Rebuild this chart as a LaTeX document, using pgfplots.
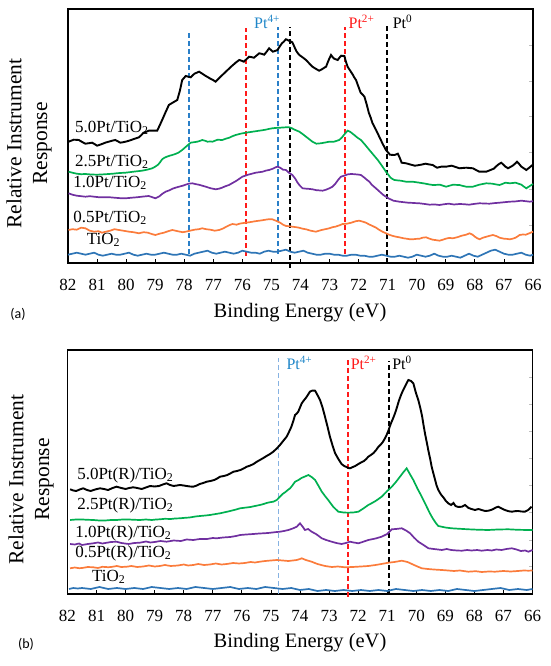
\documentclass[border=0pt]{standalone}
\usepackage{pgfplots}
\pgfplotsset{compat=1.18}
\usepackage{fontspec}
\setmainfont{Liberation Serif}
\newfontfamily\calibri{Carlito}
\definecolor{cgreen}{HTML}{00B050}
\definecolor{cpurple}{HTML}{7030A0}
\definecolor{corange}{HTML}{FB7C3C}
\definecolor{cblue}{HTML}{2E75B6}
\definecolor{dblue}{HTML}{2A7FC8}
\definecolor{tblue}{HTML}{1F86C8}
\definecolor{lblue}{HTML}{86B2E2}
\definecolor{cred}{HTML}{FF1A1A}
\newcommand{\lab}{\fontsize{17}{20}\selectfont}
\newcommand{\ptl}{\fontsize{16}{19}\selectfont}
\pgfplotsset{
  myax/.style={
    scale only axis, width=465pt,
    xmin=66, xmax=82, x dir=reverse,
    xtick={66,...,82},
    xtick pos=left, ytick pos=right,
    tick align=inside, major tick length=4pt,
    xtick style={black, line width=0.8pt},
    ytick style={gray!50, line width=0.8pt},
    yticklabels={},
    axis line style={line width=1.7pt},
    xticklabel style={font=\lab, anchor=center, yshift=-22pt},
    /pgf/number format/assume math mode=true,
    clip=false,
    every axis plot/.append style={line width=1.7pt, mark=none},
  }
}
\begin{document}
\begin{tikzpicture}
\useasboundingbox (0pt,0pt) rectangle (550pt,666pt);
% ---------------- panel (a)
\begin{axis}[myax, at={(300.5pt,530pt)}, anchor=center, height=253.4pt,
  ymin=0, ymax=253.4, ytick={37.7,73.7,110,146,181.7,217.7}]
% dashed reference lines
\addplot[dblue, line width=1.8pt, dash pattern=on 5pt off 3pt] coordinates {(77.84,9) (77.84,231)};
\addplot[cred, line width=1.8pt, dash pattern=on 5pt off 3pt] coordinates {(75.88,7) (75.88,234.7)};
\addplot[dblue, line width=1.8pt, dash pattern=on 5pt off 3pt] coordinates {(74.77,9) (74.77,236)};
\addplot[black, line width=1.8pt, dash pattern=on 5pt off 3pt] coordinates {(74.35,-5) (74.35,236)};
\addplot[cred, line width=1.8pt, dash pattern=on 5pt off 3pt] coordinates {(72.46,9) (72.46,236)};
\addplot[black, line width=1.8pt, dash pattern=on 5pt off 3pt] coordinates {(71.02,0) (71.02,237.7)};
% TiO2
\addplot[cblue] coordinates {(82,8) (81.85,9) (81.7,10) (81.55,9) (81.4,8) (81.25,9) (81.1,10) (80.95,8) (80.8,7) (80.65,8) (80.5,9) (80.35,8) (80.2,8) (80.05,9) (79.9,10) (79.75,8) (79.6,7) (79.45,8) (79.3,9) (79.15,8) (79.0,8) (78.85,9) (78.7,10) (78.55,9) (78.4,8) (78.25,8) (78.1,9) (77.95,8) (77.8,7) (77.65,9) (77.5,10) (77.35,11) (77.2,12) (77.05,10) (76.9,9) (76.75,10) (76.6,11) (76.45,10) (76.3,9) (76.15,10) (76.0,12) (75.85,11) (75.7,10) (75.55,10) (75.4,9) (75.25,11) (75.1,12) (74.95,11) (74.8,11) (74.65,12) (74.5,13) (74.35,11) (74.2,10) (74.05,11) (73.9,12) (73.75,10) (73.6,9) (73.45,8) (73.3,8) (73.15,9) (73.0,9) (72.85,8) (72.7,8) (72.55,7) (72.4,7) (72.25,8) (72.1,8) (71.95,7) (71.8,7) (71.65,6) (71.5,6) (71.35,7) (71.2,8) (71.05,7) (70.9,6) (70.75,6) (70.6,7) (70.45,6) (70.3,5) (70.15,6) (70.0,8) (69.85,7) (69.7,6) (69.55,7) (69.4,9) (69.25,7) (69.1,6) (68.95,6) (68.8,7) (68.65,6) (68.5,5) (68.35,7) (68.2,9) (68.05,7) (67.9,6) (67.75,8) (67.6,10) (67.45,12) (67.3,13) (67.15,11) (67.0,9) (66.85,8) (66.7,8) (66.55,9) (66.4,10) (66.25,8) (66.1,7) (66.0,8)};
% 0.5Pt
\addplot[corange] coordinates {(81.98,32.7) (81.85,33.5) (81.7,33) (81.55,35) (81.4,34.4) (81.25,32) (81.1,31) (80.95,31.5) (80.83,30) (80.7,31) (80.55,32) (80.4,33.5) (80.25,32.7) (80.1,32) (79.9,31) (79.75,30.5) (79.56,29.4) (79.4,30.5) (79.25,30) (79.1,28.5) (78.99,27.7) (78.85,29) (78.7,30) (78.55,31.5) (78.41,32.7) (78.3,32) (78.15,31) (78.05,30.5) (77.95,31) (77.8,32) (77.65,33) (77.5,33.5) (77.38,34.4) (77.25,33.5) (77.1,33) (76.95,32) (76.8,32.7) (76.68,34) (76.55,36) (76.45,37.5) (76.34,38.7) (76.2,38) (76.1,39) (76.0,39.5) (75.88,40) (75.75,40.5) (75.65,41) (75.55,41.5) (75.42,42) (75.3,42.5) (75.2,43) (75.08,43.5) (74.97,43.4) (74.85,42) (74.7,40) (74.6,38) (74.5,36.7) (74.4,36.5) (74.28,36) (74.15,35.5) (74.05,35) (73.93,34) (73.81,33.4) (73.65,32) (73.47,31) (73.3,32.5) (73.15,33.5) (73.01,34.4) (72.9,35.5) (72.8,36) (72.65,37.5) (72.55,38.7) (72.4,39) (72.25,40) (72.1,41.5) (71.98,42) (71.85,41) (71.75,40) (71.62,38) (71.52,36.7) (71.4,35) (71.3,33) (71.18,31) (71.06,29.4) (70.95,28) (70.85,27) (70.72,26) (70.6,25.4) (70.47,24.5) (70.35,24) (70.25,23.5) (70.14,23.4) (70.02,23.8) (69.9,24) (69.8,25) (69.68,25.4) (69.56,24) (69.45,23) (69.32,22.5) (69.22,22) (69.1,23) (69.0,24) (68.88,24.8) (68.76,24.4) (68.6,25.5) (68.45,27) (68.3,28) (68.18,29.4) (68.08,28) (68.0,26) (67.92,24.5) (67.84,23.4) (67.72,25) (67.6,26) (67.48,27) (67.38,27.7) (67.25,26.5) (67.15,25) (67.0,24) (66.9,23.8) (66.8,23.4) (66.7,24) (66.6,25) (66.52,26.5) (66.46,27.7) (66.35,28.2) (66.25,28) (66.12,29.5) (66.0,31)};
% 1.0Pt
\addplot[cpurple] coordinates {(81.98,69.4) (81.85,68) (81.7,67) (81.55,66.5) (81.4,66) (81.25,66.5) (81.1,66) (80.95,65.5) (80.83,65.4) (80.6,65.5) (80.4,65) (80.2,64.5) (80.02,64.4) (79.8,65) (79.6,65.5) (79.4,66.2) (79.22,66.7) (79.1,65.5) (78.99,64.4) (78.85,66.5) (78.75,69) (78.64,71) (78.5,72.5) (78.4,74) (78.3,75) (78.18,76) (78.05,77) (77.95,78) (77.85,79) (77.72,79.4) (77.6,78.5) (77.5,78) (77.38,77) (77.26,76) (77.1,74.5) (76.92,73.4) (76.8,74) (76.7,75) (76.58,76.5) (76.46,77.7) (76.32,80) (76.2,82) (76.1,84) (76.0,86) (75.9,87) (75.8,88) (75.67,89) (75.54,90) (75.42,90.5) (75.3,91) (75.2,92) (75.08,92.7) (74.95,94) (74.85,95.5) (74.79,96) (74.7,95) (74.6,93) (74.5,92.7) (74.4,90) (74.28,87.7) (74.18,84) (74.1,80) (74.02,77) (73.93,74.4) (73.8,74) (73.7,73.8) (73.59,73.4) (73.45,72.5) (73.35,72.3) (73.24,72) (73.12,73) (73.0,74.5) (72.9,76) (72.8,79) (72.7,83) (72.61,86) (72.5,87) (72.38,88.3) (72.26,88.7) (72.15,88.5) (72.04,88.2) (71.92,87.7) (71.8,85) (71.72,83) (71.63,81) (71.55,78) (71.45,75.5) (71.34,72.7) (71.22,69.5) (71.14,67.5) (71.06,66) (70.95,64) (70.8,62) (70.7,61.5) (70.6,61) (70.45,60.5) (70.3,60) (70.15,59.8) (70.05,59.6) (69.91,59.4) (69.75,58.8) (69.55,58) (69.4,58.3) (69.22,57.7) (69.05,58.5) (68.9,59) (68.72,58.2) (68.53,58.7) (68.38,58.5) (68.2,58) (68.02,58.8) (67.84,59.4) (67.68,59.2) (67.5,59) (67.32,59.6) (67.15,60) (66.98,60.5) (66.8,61) (66.6,61.3) (66.4,62) (66.25,61.5) (66.11,61) (66.0,61.5)};
% 2.5Pt
\addplot[cgreen] coordinates {(81.98,91) (81.85,90) (81.7,89) (81.55,88.5) (81.4,88.7) (81.2,88.2) (81.0,88) (80.8,88.3) (80.6,88.7) (80.45,89) (80.3,89.5) (80.15,89.8) (80.02,90) (79.88,90.5) (79.75,91) (79.6,91.5) (79.45,92) (79.28,93) (79.1,94.4) (79.0,96) (78.9,98) (78.83,100.5) (78.76,103.4) (78.68,105) (78.6,106) (78.5,107) (78.41,107.7) (78.3,108.8) (78.2,110) (78.13,111.5) (78.07,112.7) (77.98,115) (77.88,117.5) (77.78,120) (77.66,120.5) (77.55,121) (77.46,121.8) (77.38,122.7) (77.29,122) (77.2,121) (77.1,121.2) (77.03,121) (76.94,122) (76.85,123) (76.77,122.8) (76.69,122.7) (76.57,124) (76.45,125) (76.34,126.5) (76.23,127.7) (76.06,129) (75.88,130) (75.76,130.5) (75.65,131) (75.53,131.5) (75.42,132) (75.3,132.5) (75.2,133) (75.08,133.8) (74.97,134.4) (74.83,134.8) (74.7,135) (74.6,135.2) (74.5,135.4) (74.39,135.4) (74.3,134.5) (74.2,133) (74.12,132) (74.04,131) (73.92,128.5) (73.81,126) (73.7,123.5) (73.59,121) (73.52,120) (73.45,119) (73.38,119.2) (73.3,119.4) (73.15,120.2) (73.01,121) (72.93,121) (72.85,121) (72.76,121.8) (72.67,122.7) (72.58,125) (72.5,128) (72.44,130) (72.38,132) (72.31,131.2) (72.25,130) (72.2,128.8) (72.15,127.7) (72.04,125) (71.92,122.7) (71.78,118) (71.63,112.7) (71.48,107.5) (71.34,102.7) (71.2,97) (71.06,91) (70.98,88) (70.9,85) (70.84,83.8) (70.77,82.7) (70.66,82.3) (70.55,82) (70.46,81.5) (70.37,81) (70.26,81) (70.15,81) (70.03,80.5) (69.91,80) (69.8,79.5) (69.7,79) (69.58,78.3) (69.45,77.7) (69.32,77.8) (69.2,78) (69.1,77) (68.99,76) (68.87,77) (68.75,78) (68.64,77.8) (68.53,77.7) (68.42,76.8) (68.3,76) (68.18,76) (68.07,76) (67.96,77) (67.85,78) (67.73,78.7) (67.61,79.4) (67.5,79.2) (67.4,79) (67.28,78.3) (67.15,77.7) (67.05,78.8) (66.95,80) (66.87,79.7) (66.8,79.4) (66.7,79.7) (66.6,80) (66.5,79) (66.4,78) (66.32,76.2) (66.23,74.4) (66.12,76.5) (66.0,78.7)};
% 5.0Pt
\addplot[black, line width=1.9pt] coordinates {(81.98,121) (81.8,123) (81.63,122.7) (81.5,120.5) (81.4,119) (81.28,119.5) (81.17,120) (81.08,118.5) (81.0,117) (80.92,117.8) (80.83,118.7) (80.72,120) (80.6,121) (80.48,122) (80.37,122.7) (80.28,121.3) (80.2,120) (80.1,120.5) (80.02,121) (79.9,122) (79.8,123) (79.68,124.2) (79.56,125.4) (79.48,127.5) (79.4,130) (79.3,131) (79.22,132) (79.08,132) (78.93,132) (78.85,137) (78.76,142.7) (78.65,150) (78.53,157.7) (78.4,160) (78.24,162.7) (78.15,172) (78.07,182.7) (78.0,185) (77.95,186.7) (77.86,186) (77.78,185.4) (77.72,187) (77.65,189) (77.57,190) (77.49,191) (77.38,189) (77.26,186.7) (77.18,185.4) (77.1,184) (77.0,182.5) (76.92,181) (76.84,183.5) (76.75,186) (76.66,188.5) (76.57,191) (76.46,194) (76.35,197) (76.23,200) (76.11,202.7) (76.03,202) (75.95,201) (75.86,203.5) (75.77,206) (75.68,205.5) (75.6,205) (75.51,207.2) (75.42,209.4) (75.33,208.8) (75.25,208) (75.16,211.2) (75.08,214.4) (75.02,212.8) (74.95,211) (74.87,211.8) (74.79,212.7) (74.72,216) (74.65,219) (74.57,221.2) (74.5,223.4) (74.45,222.8) (74.4,222) (74.34,221.2) (74.28,220.4) (74.22,216.5) (74.15,212) (74.1,209.8) (74.04,207.7) (73.92,205.2) (73.81,202.7) (73.7,199.3) (73.59,196) (73.48,194) (73.36,192) (73.29,193) (73.23,194) (73.18,195) (73.12,196) (73.04,202) (72.95,207.7) (72.9,205.8) (72.84,204) (72.78,203.3) (72.72,202.7) (72.66,205) (72.6,207) (72.55,206.8) (72.49,206.7) (72.44,201.3) (72.38,196) (72.29,192) (72.2,188) (72.15,185.3) (72.09,182.7) (72.01,176.3) (71.93,170) (71.86,168) (71.8,166) (71.72,158) (71.65,150) (71.58,144.7) (71.52,139.4) (71.4,132.7) (71.29,126) (71.18,119.3) (71.06,112.7) (70.99,110.3) (70.92,108) (70.85,107.8) (70.77,107.7) (70.71,108.3) (70.65,109) (70.58,104.5) (70.52,100) (70.44,99.7) (70.37,99.4) (70.28,98.7) (70.2,98) (70.13,97.5) (70.07,97) (69.99,97.3) (69.91,97.7) (69.8,98.3) (69.7,99) (69.58,98.3) (69.45,97.7) (69.38,96.3) (69.3,95) (69.23,95.5) (69.16,96) (69.08,96) (68.99,96) (68.9,96.5) (68.8,97) (68.66,95.7) (68.53,94.4) (68.42,94.7) (68.3,95) (68.18,94.7) (68.07,94.4) (67.96,92.7) (67.85,91) (67.73,91) (67.61,91) (67.48,92.5) (67.35,94) (67.28,96) (67.2,98) (67.15,99) (67.09,100) (67.02,98) (66.95,96) (66.9,95.2) (66.86,94.4) (66.78,95.7) (66.7,97) (66.62,99) (66.55,101) (66.47,98.5) (66.4,96) (66.31,94.3) (66.23,92.7) (66.12,95.2) (66.02,97.7)};
% labels
\node[anchor=west, font=\lab, inner sep=0pt] at (axis cs:81.76,134.7) {5.0Pt/TiO\textsubscript{2}};
\node[anchor=west, font=\lab, inner sep=0pt] at (axis cs:81.76,100.7) {2.5Pt/TiO\textsubscript{2}};
\node[anchor=west, font=\lab, inner sep=0pt] at (axis cs:81.82,79.7) {1.0Pt/TiO\textsubscript{2}};
\node[anchor=west, font=\lab, inner sep=0pt] at (axis cs:81.82,44.7) {0.5Pt/TiO\textsubscript{2}};
\node[anchor=west, font=\lab, inner sep=0pt] at (axis cs:81.36,22.7) {TiO\textsubscript{2}};
\node[font=\ptl, text=tblue, inner sep=0pt] at (axis cs:75.15,241) {Pt\textsuperscript{4+}};
\node[font=\ptl, text=cred, inner sep=0pt] at (axis cs:71.90,241) {Pt\textsuperscript{2+}};
\node[font=\ptl, text=black, inner sep=0pt] at (axis cs:70.49,241) {Pt\textsuperscript{0}};
\end{axis}
% ---------------- panel (b)
\begin{axis}[myax, at={(300pt,194pt)}, anchor=center, height=244pt,
  ymin=0, ymax=244, ytick={27.3,54,81.3,108.3,135.7,162.3,189.7,216.7}]
\addplot[lblue, line width=1.4pt, dash pattern=on 5pt off 3pt] coordinates {(74.75,0) (74.75,236)};
\addplot[cred, line width=1.9pt, dash pattern=on 5pt off 3pt] coordinates {(72.34,-3) (72.34,236)};
\addplot[black, line width=1.8pt, dash pattern=on 5pt off 3pt] coordinates {(70.94,0) (70.94,233)};
% TiO2
\addplot[cblue] coordinates {(81.95,5) (81.8,6) (81.65,5.5) (81.5,6) (81.35,5.5) (81.2,5) (81.05,6) (80.9,7) (80.75,6) (80.6,5) (80.45,5.5) (80.3,6) (80.15,5.5) (80.0,5) (79.85,5.5) (79.7,6) (79.55,5.5) (79.4,5) (79.25,6) (79.1,7) (78.95,6.5) (78.8,6) (78.65,5.5) (78.5,5) (78.35,5.5) (78.2,6) (78.05,5.5) (77.9,5) (77.75,6) (77.6,7) (77.45,6.5) (77.3,6) (77.15,5.5) (77.0,5) (76.85,5.5) (76.7,6) (76.55,6.5) (76.4,7) (76.25,6) (76.1,5) (75.95,5.5) (75.8,6) (75.65,5.5) (75.5,5) (75.35,6) (75.2,7) (75.05,6.5) (74.9,6) (74.75,5.5) (74.6,5) (74.45,5.5) (74.3,6) (74.15,5) (74.0,4) (73.85,4.5) (73.7,5) (73.55,4) (73.4,3) (73.25,3.5) (73.1,4) (72.95,3.5) (72.8,3) (72.65,3.5) (72.5,4) (72.35,3.5) (72.2,3) (72.05,3.5) (71.9,4) (71.75,3.5) (71.6,3) (71.45,3.5) (71.3,4) (71.15,3.5) (71.0,3) (70.85,4) (70.7,5) (70.55,4.5) (70.4,4) (70.25,3.5) (70.1,3) (69.95,3.5) (69.8,4) (69.65,3.5) (69.5,3) (69.35,3.5) (69.2,4) (69.05,3.5) (68.9,3) (68.75,4) (68.6,5) (68.45,4.5) (68.3,4) (68.15,3.5) (68.0,3) (67.85,3.5) (67.7,4) (67.55,4.5) (67.4,5) (67.25,5.5) (67.1,6) (66.95,5) (66.8,4) (66.65,4.5) (66.5,5) (66.35,4.5) (66.2,4) (66.0,5)};
% 0.5Pt(R)
\addplot[corange] coordinates {(81.91,25.7) (81.75,26.5) (81.6,25.8) (81.5,26) (81.3,27) (81.11,26.7) (80.95,26) (80.8,27.2) (80.6,26.8) (80.5,27) (80.3,28) (80.15,27) (79.96,27.3) (79.8,28) (79.6,27) (79.4,27.5) (79.2,28.5) (79.0,27.5) (78.82,28) (78.65,29) (78.45,28) (78.2,28.5) (78.0,29.5) (77.85,28.5) (77.67,29) (77.5,30) (77.3,29) (77.1,29.5) (76.9,30.5) (76.7,29.5) (76.52,30) (76.3,31) (76.1,30.5) (75.9,31) (75.7,32) (75.55,31.5) (75.38,32.3) (75.2,33) (75.0,33.5) (74.8,34) (74.6,33.5) (74.4,33) (74.25,33.5) (74.11,34) (74.0,35) (73.94,35.7) (73.8,34) (73.6,32.3) (73.4,30) (73.14,28) (72.9,27) (72.7,27.5) (72.45,26.7) (72.2,27) (71.9,27.5) (71.65,28) (71.4,29) (71.2,30) (70.96,31.3) (70.75,32) (70.5,33.3) (70.3,32) (70.15,30) (70.0,28) (69.81,25.7) (69.6,25) (69.4,24.5) (69.12,24) (68.9,23.5) (68.7,23) (68.5,23.5) (68.21,22.3) (67.95,22.8) (67.75,22) (67.5,22.5) (67.29,22.3) (67.0,23) (66.75,22.5) (66.5,23) (66.3,23.5) (66.14,23.3) (66.0,23.5)};
% 1.0Pt(R)
\addplot[cpurple] coordinates {(81.91,50) (81.75,49.5) (81.6,50.5) (81.5,49) (81.3,50) (81.11,50.7) (80.95,51.5) (80.8,50.5) (80.7,51) (80.5,52) (80.31,52.3) (80.15,51) (79.9,50) (79.7,51) (79.51,51.3) (79.3,52.5) (79.15,51.5) (79.0,52) (78.8,53) (78.59,52.3) (78.35,53.5) (78.1,53) (77.9,54.5) (77.67,54) (77.45,55) (77.2,55) (77.0,56) (76.87,55.7) (76.65,56.5) (76.4,57) (76.2,58) (76.06,59) (75.85,59.5) (75.6,60) (75.4,60.5) (75.26,60.7) (75.1,61) (74.95,61.5) (74.8,62) (74.69,62.3) (74.55,63) (74.4,64) (74.25,65.5) (74.11,67.3) (74.0,70.7) (73.9,67) (73.83,64) (73.72,65) (73.6,62.3) (73.45,60) (73.25,55.7) (73.1,54) (72.91,52.3) (72.75,51) (72.57,50) (72.42,51) (72.28,52.3) (72.15,51.5) (71.99,50.7) (71.85,52) (71.65,54) (71.4,55.5) (71.19,57.3) (71.0,60) (70.84,64.7) (70.7,65) (70.5,65.7) (70.35,63.5) (70.21,60.7) (70.08,56.5) (69.93,52.3) (69.75,49) (69.58,45.7) (69.4,45) (69.25,44.5) (69.12,44) (68.95,45) (68.8,44) (68.6,43.5) (68.43,43.3) (68.25,44) (68.1,43.5) (67.9,44) (67.75,43.3) (67.55,44) (67.4,43.5) (67.25,44.5) (67.06,44) (66.9,45) (66.71,45.7) (66.55,44.5) (66.4,43) (66.25,43.5) (66.14,42.3) (66.0,44)};
% 2.5Pt(R)
\addplot[cgreen] coordinates {(81.91,74) (81.7,74.5) (81.5,74.5) (81.3,74.2) (81.11,74) (80.9,73.5) (80.7,73.5) (80.5,74) (80.31,74) (80.1,74.5) (79.9,74.5) (79.7,74.2) (79.51,74) (79.3,74.5) (79.1,74) (78.95,74.5) (78.82,74.7) (78.65,75.2) (78.45,75) (78.3,75.5) (78.13,75.7) (77.95,76.2) (77.8,76.5) (77.6,77.5) (77.44,78) (77.25,78.5) (77.1,79) (76.9,80) (76.75,80.7) (76.55,82) (76.4,83) (76.2,84.5) (76.06,85.7) (75.9,86.3) (75.7,87) (75.55,88) (75.38,89) (75.25,90) (75.15,91) (75.03,91.8) (74.92,92.3) (74.8,94) (74.69,97.3) (74.6,100) (74.5,102) (74.42,104) (74.34,105.7) (74.25,109) (74.17,112.3) (74.05,114) (73.95,116) (73.83,117.5) (73.71,119) (73.6,117) (73.48,114) (73.36,108) (73.25,102.3) (73.14,98) (73.03,94) (72.94,90.5) (72.85,87) (72.76,84.5) (72.68,82.3) (72.5,81.5) (72.34,81.3) (72.15,81.6) (71.99,82.3) (71.82,85.5) (71.65,89) (71.52,91) (71.4,93) (71.3,95) (71.19,97.3) (71.1,100) (71.0,103) (70.92,105) (70.84,107.3) (70.7,112) (70.56,117.3) (70.45,121.5) (70.33,125.7) (70.22,120) (70.1,114) (69.96,105.5) (69.81,97.3) (69.67,89) (69.53,80.7) (69.44,76) (69.35,72) (69.3,70) (69.24,68) (69.0,66.5) (68.78,65.7) (68.5,65.2) (68.21,64.7) (67.9,64.3) (67.52,64) (67.2,64.5) (66.83,64.7) (66.5,64.2) (66.14,64) (66.0,64)};
% 5.0Pt(R)
\addplot[black, line width=1.9pt] coordinates {(81.91,104.7) (81.8,103.5) (81.7,103) (81.58,104.5) (81.46,105.7) (81.33,104) (81.2,103) (81.05,104.5) (80.88,105.7) (80.75,105) (80.6,104) (80.45,106) (80.31,107.3) (80.15,106) (80.0,105) (79.88,106) (79.74,106.7) (79.6,106) (79.45,105) (79.3,106.5) (79.16,108) (79.0,107.5) (78.85,108) (78.72,109.5) (78.59,110.7) (78.47,109) (78.35,108) (78.24,108.5) (78.13,109) (78.0,108.5) (77.9,108) (77.78,107.5) (77.67,107.3) (77.55,108.5) (77.45,110) (77.33,111) (77.21,112.3) (77.08,113) (76.95,114) (76.85,115.5) (76.75,117.3) (76.62,118) (76.5,119) (76.4,120.5) (76.29,122.3) (76.17,123) (76.05,124) (75.94,125.5) (75.83,127.3) (75.71,128.5) (75.6,130) (75.5,132) (75.38,134) (75.26,136) (75.15,138) (75.03,140) (74.92,142.3) (74.8,145.5) (74.69,149) (74.58,153) (74.46,157.3) (74.38,162) (74.3,167) (74.23,173) (74.17,179) (74.11,180.5) (74.06,182.3) (74.0,186.5) (73.94,190.7) (73.87,193.5) (73.8,196) (73.73,199) (73.66,202.3) (73.57,203.5) (73.48,203.3) (73.4,199) (73.31,194) (73.22,186) (73.14,177.3) (73.05,167) (72.97,157.3) (72.88,148.5) (72.79,140.7) (72.68,135) (72.57,130) (72.48,128) (72.4,127) (72.34,126) (72.28,125.7) (72.18,127) (72.1,128) (71.99,130) (71.9,131.5) (71.8,133) (71.72,135) (71.65,137.3) (71.56,139) (71.47,141) (71.38,144) (71.3,147.3) (71.22,149.5) (71.15,152) (71.08,155.5) (71.02,159) (70.95,164) (70.88,170) (70.8,175.5) (70.73,180.7) (70.66,187) (70.6,193) (70.55,197) (70.5,200.7) (70.44,204.5) (70.38,208) (70.32,211.5) (70.27,214) (70.18,213) (70.1,210.7) (70.02,202) (69.93,194) (69.86,186) (69.8,178) (69.75,169) (69.7,160.7) (69.64,152) (69.58,143) (69.52,135) (69.47,127.3) (69.41,120.5) (69.35,114) (69.3,108.5) (69.24,104) (69.15,99.5) (69.05,96) (68.98,93) (68.9,90.7) (68.8,89) (68.72,91) (68.65,88) (68.55,87) (68.43,87.3) (68.32,89) (68.2,86) (68.1,85) (67.98,84) (67.86,85) (67.75,84) (67.63,83) (67.52,83.3) (67.43,84) (67.35,85) (67.26,86.5) (67.18,87.3) (67.06,85.5) (66.95,84) (66.83,82.8) (66.71,82.3) (66.6,82.8) (66.5,83) (66.38,82.5) (66.26,82.3) (66.15,84) (66.03,87.3)};
% labels
\node[anchor=west, font=\lab, inner sep=0pt] at (axis cs:81.67,119) {5.0Pt(R)/TiO\textsubscript{2}};
\node[anchor=west, font=\lab, inner sep=0pt] at (axis cs:81.67,89) {2.5Pt(R)/TiO\textsubscript{2}};
\node[anchor=west, font=\lab, inner sep=0pt] at (axis cs:81.74,61) {1.0Pt(R)/TiO\textsubscript{2}};
\node[anchor=west, font=\lab, inner sep=0pt] at (axis cs:81.74,41) {0.5Pt(R)/TiO\textsubscript{2}};
\node[anchor=west, font=\lab, inner sep=0pt] at (axis cs:81.16,17) {TiO\textsubscript{2}};
\node[font=\ptl, text=tblue, inner sep=0pt] at (axis cs:74.02,231) {Pt\textsuperscript{4+}};
\node[font=\ptl, text=cred, inner sep=0pt] at (axis cs:71.81,231) {Pt\textsuperscript{2+}};
\node[font=\ptl, text=black, inner sep=0pt] at (axis cs:70.49,231) {Pt\textsuperscript{0}};
\end{axis}
% ---------------- outer texts
\node[rotate=90, align=center, font=\fontsize{21.5}{25.7}\selectfont, inner sep=0pt] at (29pt,522.5pt) {Relative Instrument\\Response};
\node[rotate=90, align=center, font=\fontsize{21.5}{25.7}\selectfont, inner sep=0pt] at (31pt,186.5pt) {Relative Instrument\\Response};
\node[font=\fontsize{20.5}{24}\selectfont, inner sep=0pt] at (300pt,353pt) {Binding Energy (eV)};
\node[font=\fontsize{20.5}{24}\selectfont, inner sep=0pt] at (300pt,23pt) {Binding Energy (eV)};
\node[font=\calibri\fontsize{14}{16}\selectfont, inner sep=0pt] at (18pt,352pt) {(a)};
\node[font=\calibri\fontsize{14}{16}\selectfont, inner sep=0pt] at (26pt,22pt) {(b)};
\end{tikzpicture}
\end{document}
